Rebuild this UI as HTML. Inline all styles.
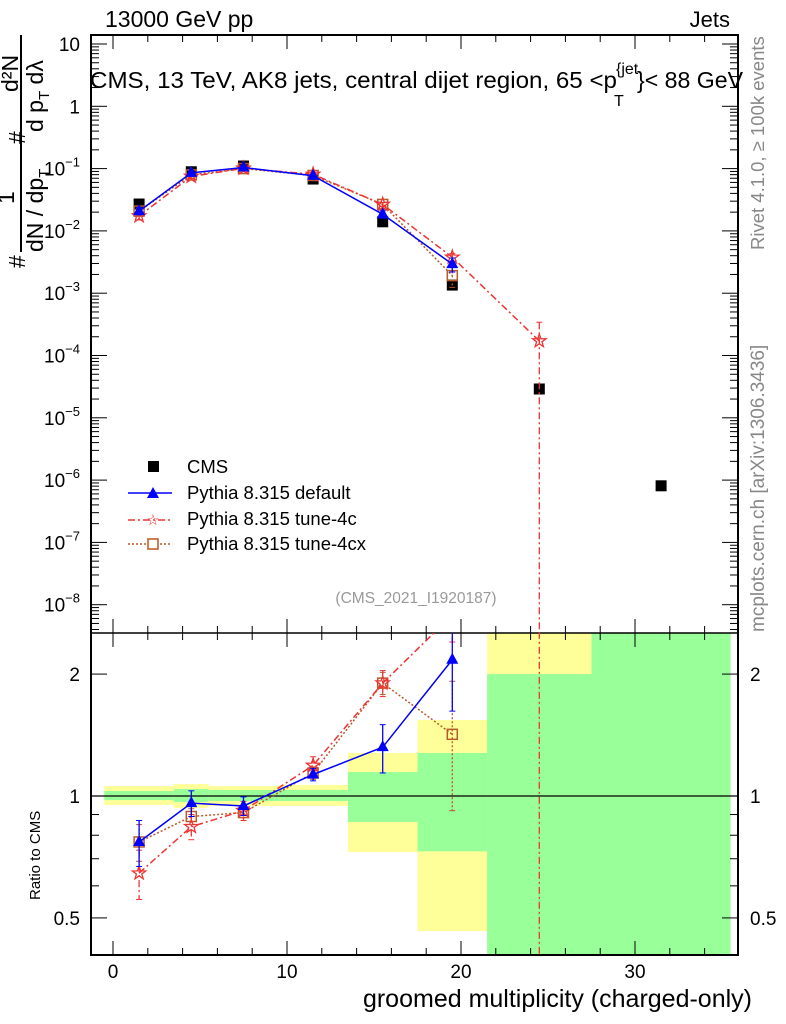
<!DOCTYPE html>
<html><head><meta charset="utf-8"><style>
html,body{margin:0;background:#fff;overflow:hidden;width:786px;height:1024px}
svg{display:block;font-family:"Liberation Sans",sans-serif}
</style></head><body>
<svg id="c" width="786" height="1024" viewBox="0 0 786 1024">
<g id="bands"></g>
<g id="axes"></g>
<g id="series"></g>
<text x="105" y="27" font-size="23">13000 GeV pp</text>
<text x="730" y="27" font-size="22" text-anchor="end">Jets</text>
<g font-size="23">
<text x="90" y="88" textLength="527" lengthAdjust="spacingAndGlyphs">CMS, 13 TeV, AK8 jets, central dijet region, 65 &lt;p</text>
<text x="616" y="74" font-size="16">{jet</text>
<text x="614" y="106" font-size="16">T</text>
<text x="637" y="88" textLength="106" lengthAdjust="spacingAndGlyphs">}&lt; 88 GeV</text>
</g>
<text x="416" y="603" font-size="15.5" fill="#999" text-anchor="middle">(CMS_2021_I1920187)</text>
<text transform="translate(764,250) rotate(-90)" font-size="18.5" fill="#888">Rivet 4.1.0, ≥ 100k events</text>
<text transform="translate(764,632) rotate(-90)" font-size="19" fill="#888">mcplots.cern.ch [arXiv:1306.3436]</text>
<g font-size="23">
<text transform="translate(25,268) rotate(-90)">#</text>
<text transform="translate(14,204) rotate(-90)">1</text>
<text transform="translate(25,144) rotate(-90)">#</text>
<text transform="translate(18,92) rotate(-90)">d²N</text>
<line x1="21" y1="35" x2="21" y2="252" stroke="#000" stroke-width="2"/>
<text transform="translate(43,252) rotate(-90)">dN / dp<tspan font-size="15" dy="6">T</tspan></text>
<text transform="translate(43,132) rotate(-90)">d p<tspan font-size="15" dy="6">T</tspan><tspan dy="-6"> dλ</tspan></text>
</g>
<text transform="translate(40,900) rotate(-90)" font-size="15">Ratio to CMS</text>
<text x="752" y="1007" font-size="25" text-anchor="end">groomed multiplicity (charged-only)</text>
<g font-size="18.5">
<g><rect x="148" y="461" width="11" height="11"/><text x="187" y="473">CMS</text></g>
<g><line x1="128" y1="493" x2="172" y2="493" stroke="#00f" stroke-width="1.5"/><path d="M153,487 L159,498 L147,498Z" fill="#00f"/><text x="187" y="499">Pythia 8.315 default</text></g>
<g><line x1="128" y1="520" x2="172" y2="520" stroke="#e33" stroke-width="1.5" stroke-dasharray="7,3,2,3"/><text x="153" y="525" font-size="15" fill="#e33" text-anchor="middle">☆</text><text x="187" y="525">Pythia 8.315 tune-4c</text></g>
<g><line x1="128" y1="544" x2="172" y2="544" stroke="#b52" stroke-width="1.5" stroke-dasharray="2,2"/><rect x="148" y="539" width="10" height="10" fill="#fff" stroke="#b52" stroke-width="1.5"/><text x="187" y="550">Pythia 8.315 tune-4cx</text></g>
</g>
</svg>
<script>
const xs=[1.5,4.5,7.5,11.5,15.5,19.5,24.5,31.5];
const cms=[0.027,0.089,0.11,0.068,0.014,0.00135,2.9e-5,8.1e-7];
const xDef=[1.5,4.5,7.5,11.5,15.5,19.5];
const rDef=[0.77,0.96,0.945,1.13,1.32,2.17];
const eDef=[0.1,0.07,0.05,0.04,0.18,0.55];
const x4c=[1.5,4.5,7.5,11.5,15.5,19.5,24.5];
const r4c=[0.645,0.84,0.92,1.19,1.9,2.8,5.9];
const e4c=[0.09,0.06,0.05,0.06,0.14,0.4,5.9];
const x4cx=[1.5,4.5,7.5,11.5,15.5,19.5];
const r4cx=[0.77,0.89,0.91,1.14,1.9,1.42];
const e4cx=[0.08,0.04,0.04,0.04,0.12,0.5];
const binEdges=[-0.5,3.5,5.5,9.5,13.5,17.5,21.5,27.5,35.5];
const yellowLo=[0.95,0.934,0.945,0.945,0.727,0.464,0.3,0.3];
const yellowHi=[1.058,1.07,1.058,1.065,1.277,1.54,3,0.3];
const greenLo=[0.977,0.966,0.972,0.972,0.863,0.73,0.3,0.3];
const greenHi=[1.029,1.04,1.035,1.035,1.146,1.277,2.0,3];
const ns="http://www.w3.org/2000/svg";
const X=v=>113+v*17.4;
const Y=v=>44-(Math.log10(v)-1)*62.3;
const R=v=>796-Math.log10(v)*405;
const L=91,RT=738,T=35,M=633,B=955;
function mk(p,t,a){const e=document.createElementNS(ns,t);for(const k in a)e.setAttribute(k,a[k]);p.appendChild(e);return e;}
const bands=document.getElementById('bands'),axes=document.getElementById('axes'),ser=document.getElementById('series');
const clipR=v=>Math.max(M,Math.min(B,R(v)));
for(let i=0;i<binEdges.length-1;i++){
 const x1=X(binEdges[i]),x2=X(binEdges[i+1]);
 let y1=clipR(yellowHi[i]),y2=clipR(yellowLo[i]);
 if(y2>y1){const r=mk(bands,'rect',{x:x1,y:y1,width:x2-x1,height:y2-y1,fill:'#ffff99'});
 
 }
 y1=clipR(greenHi[i]);y2=clipR(greenLo[i]);
 const g=mk(bands,'rect',{x:x1,y:y1,width:x2-x1,height:y2-y1,fill:'#99ff99'});
 
 
}
mk(axes,'rect',{x:L,y:T,width:RT-L,height:B-T,fill:'none',stroke:'#000','stroke-width':2});
mk(axes,'line',{x1:L,y1:M,x2:RT,y2:M,stroke:'#000','stroke-width':1.5});
mk(axes,'line',{x1:L,y1:R(1),x2:RT,y2:R(1),stroke:'#000','stroke-width':1.2});
for(let v=0;v<=34;v+=2){const x=X(v),maj=v%10==0,l=maj?14:7;
 for(const yy of [T,M]){mk(axes,'line',{x1:x,y1:yy,x2:x,y2:yy+l,stroke:'#000'});}
 for(const yy of [M,B]){mk(axes,'line',{x1:x,y1:yy,x2:x,y2:yy-l,stroke:'#000'});}
 if(maj){const t=mk(axes,'text',{x:x,y:978,'font-size':19,'text-anchor':'middle'});t.textContent=v;
 
 }
}
const decLabels=['10','1','10⁻¹','10⁻²','10⁻³','10⁻⁴','10⁻⁵','10⁻⁶','10⁻⁷','10⁻⁸'];
for(let e=1;e>=-9;e--){
 for(let m=1;m<10;m++){const v=m*Math.pow(10,e),y=Y(v);if(y<T||y>M)continue;
  const l=m==1?16:8;mk(axes,'line',{x1:L,y1:y,x2:L+l,y2:y,stroke:'#000'});mk(axes,'line',{x1:RT,y1:y,x2:RT-l,y2:y,stroke:'#000'});}
}
for(let i=0;i<decLabels.length;i++){const e=1-i,y=Y(Math.pow(10,e));
 const t=mk(axes,'text',{x:80,y:y+7,'font-size':19,'text-anchor':'end'});
 if(e<=-1){t.innerHTML='10<tspan font-size="13" dy="-9">−'+(-e)+'</tspan>';}else t.textContent=decLabels[i];
 
 }
const rt=[0.4,0.5,0.6,0.7,0.8,0.9,1,2];
for(const v of rt){const y=R(v);if(y<M||y>B)continue;const l=(v==0.5||v==1||v==2)?16:8;
 mk(axes,'line',{x1:L,y1:y,x2:L+l,y2:y,stroke:'#000'});mk(axes,'line',{x1:RT,y1:y,x2:RT-l,y2:y,stroke:'#000'});}
for(const v of [0.5,1,2]){const y=R(v)+7;
 for(const [xx,a] of [[80,'end'],[750,'start']]){const t=mk(axes,'text',{x:xx,y:y,'font-size':19,'text-anchor':a});t.textContent=v;
 
 }}
const defs=mk(document.getElementById('c'),'defs',{});
const cu=mk(defs,'clipPath',{id:'cu'});mk(cu,'rect',{x:L,y:T,width:RT-L,height:M-T});
const cr=mk(defs,'clipPath',{id:'cr'});mk(cr,'rect',{x:L,y:M,width:RT-L,height:B-M});
const gu=mk(ser,'g',{'clip-path':'url(#cu)'}),gr=mk(ser,'g',{'clip-path':'url(#cr)'});
function star(g,x,y,c,s){let d='';for(let k=0;k<10;k++){const a=-Math.PI/2+k*Math.PI/5,r=k%2?s*0.4:s;d+=(k?'L':'M')+(x+r*Math.cos(a)).toFixed(1)+','+(y+r*Math.sin(a)).toFixed(1);}
 return mk(g,'path',{d:d+'Z',fill:'none',stroke:c,'stroke-width':1.3});}
function series(xv,rv,ev,col,dash,kind,name){
 for(const [g,fy,isR] of [[gu,(i)=>Y(cms[i]*rv[i]),false],[gr,(i)=>R(rv[i]),true]]){
  let d='';xv.forEach((x,i)=>{d+=(i?'L':'M')+X(x)+','+fy(i);});
  const p=mk(g,'path',{d:d,fill:'none',stroke:col,'stroke-width':1.5,'stroke-dasharray':dash});
  
  
  xv.forEach((x,i)=>{const cx=X(x),cy=fy(i);
   const hi=isR?R(rv[i]+ev[i]):Y(cms[i]*(rv[i]+ev[i])),lo=isR?R(Math.max(rv[i]-ev[i],0.01)):Y(cms[i]*Math.max(rv[i]-ev[i],1e-12));
   mk(g,'line',{x1:cx,y1:hi,x2:cx,y2:lo,stroke:col,'stroke-width':1.3,'stroke-dasharray':dash});
   mk(g,'line',{x1:cx-3,y1:hi,x2:cx+3,y2:hi,stroke:col});mk(g,'line',{x1:cx-3,y1:lo,x2:cx+3,y2:lo,stroke:col});
   let m;
   if(kind=='tri')m=mk(g,'path',{d:`M${cx},${cy-7}L${cx+6},${cy+4}L${cx-6},${cy+4}Z`,fill:col});
   else if(kind=='star')m=star(g,cx,cy,col,7);
   else m=mk(g,'rect',{x:cx-5,y:cy-5,width:10,height:10,fill:'none',stroke:col,'stroke-width':1.5});
   
   
  });
 }
}
xs.forEach((x,i)=>{const r=mk(gu,'rect',{x:X(x)-5.5,y:Y(cms[i])-5.5,width:11,height:11,fill:'#000'});
 
 });
series(x4cx,r4cx,e4cx,'#b85a2a','2,2','sq','tune-4cx');
series(x4c,r4c,e4c,'#e33','7,3,2,3','star','tune-4c');
series(xDef,rDef,eDef,'#00f','','tri','default');
</script>
</body></html>
